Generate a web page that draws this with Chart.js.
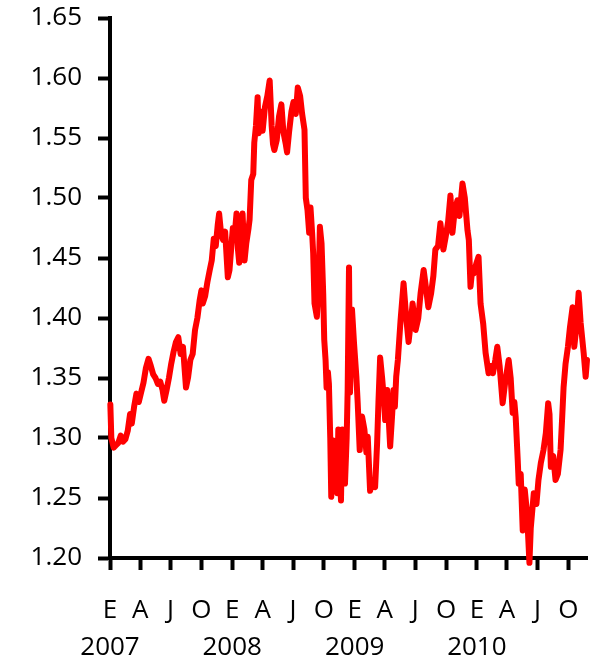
<!DOCTYPE html>
<html>
<head>
<meta charset="utf-8">
<script src="https://cdn.jsdelivr.net/npm/chart.js@4.4.0/dist/chart.umd.min.js"></script>
<style>
  html, body { margin: 0; padding: 0; background: #fff; }
  #wrap { width: 591px; height: 661px; position: relative; }
</style>
</head>
<body>
<div id="wrap"><canvas id="fxChart"></canvas></div>
<script>
// EUR/USD, valores
const dates = [
  '2007-01-02','2007-01-05','2007-01-12','2007-01-19','2007-01-26','2007-02-02','2007-02-09','2007-02-16','2007-02-23',
  '2007-03-02','2007-03-07','2007-03-14','2007-03-21','2007-03-28','2007-04-04','2007-04-11','2007-04-18','2007-04-26',
  '2007-05-03','2007-05-10','2007-05-17','2007-05-24','2007-05-31','2007-06-07','2007-06-12','2007-06-19','2007-06-26',
  '2007-07-03','2007-07-10','2007-07-17','2007-07-24','2007-07-31','2007-08-07','2007-08-16','2007-08-22','2007-08-29',
  '2007-09-05','2007-09-12','2007-09-19','2007-09-26','2007-10-01','2007-10-05','2007-10-12','2007-10-19','2007-10-26',
  '2007-11-01','2007-11-07','2007-11-13','2007-11-19','2007-11-23','2007-11-29','2007-12-05','2007-12-11','2007-12-19',
  '2007-12-24','2007-12-31',
  '2008-01-03','2008-01-08','2008-01-14','2008-01-18','2008-01-22','2008-01-28','2008-02-01','2008-02-07','2008-02-12',
  '2008-02-19','2008-02-22','2008-02-27','2008-03-04','2008-03-07','2008-03-12','2008-03-17','2008-03-20','2008-03-26',
  '2008-04-01','2008-04-08','2008-04-15','2008-04-22','2008-04-28','2008-05-02','2008-05-06','2008-05-13','2008-05-20',
  '2008-05-27','2008-06-02','2008-06-09','2008-06-13','2008-06-19','2008-06-26','2008-07-02','2008-07-09','2008-07-15',
  '2008-07-22','2008-07-28','2008-08-04','2008-08-08','2008-08-13','2008-08-18','2008-08-22','2008-08-27','2008-08-30',
  '2008-09-03','2008-09-10','2008-09-15','2008-09-19','2008-09-24','2008-09-29','2008-10-02','2008-10-06','2008-10-09',
  '2008-10-13','2008-10-16','2008-10-20','2008-10-23','2008-10-27','2008-10-30','2008-11-04','2008-11-07','2008-11-10',
  '2008-11-13','2008-11-18','2008-11-21','2008-11-25','2008-11-28','2008-12-03','2008-12-08','2008-12-11','2008-12-15',
  '2008-12-18','2008-12-24','2008-12-30',
  '2009-01-06','2009-01-10','2009-01-16','2009-01-23','2009-01-30','2009-02-05','2009-02-09','2009-02-16','2009-02-23',
  '2009-03-03','2009-03-09','2009-03-13','2009-03-18','2009-03-24','2009-03-30','2009-04-02','2009-04-08','2009-04-17',
  '2009-04-23','2009-04-27','2009-05-01','2009-05-05','2009-05-10','2009-05-18','2009-05-27','2009-06-04','2009-06-11',
  '2009-06-17','2009-06-23','2009-07-02','2009-07-10','2009-07-17','2009-07-26','2009-08-02','2009-08-09','2009-08-17',
  '2009-08-24','2009-08-30','2009-09-07','2009-09-14','2009-09-23','2009-09-30','2009-10-07','2009-10-14','2009-10-20',
  '2009-10-27','2009-11-04','2009-11-10','2009-11-19','2009-11-26','2009-12-04','2009-12-08','2009-12-13','2009-12-18',
  '2009-12-22','2009-12-30',
  '2010-01-06','2010-01-12','2010-01-20','2010-01-27','2010-02-05','2010-02-11','2010-02-18','2010-02-25','2010-03-03',
  '2010-03-10','2010-03-19','2010-03-26','2010-04-06','2010-04-12','2010-04-18','2010-04-23','2010-04-27','2010-05-03',
  '2010-05-06','2010-05-12','2010-05-18','2010-05-24','2010-05-31','2010-06-07','2010-06-11','2010-06-20','2010-06-28',
  '2010-07-04','2010-07-11','2010-07-19','2010-07-26','2010-08-02','2010-08-06','2010-08-10','2010-08-17','2010-08-24',
  '2010-08-31','2010-09-08','2010-09-13','2010-09-17','2010-09-23','2010-09-30','2010-10-06','2010-10-14','2010-10-19',
  '2010-10-25','2010-11-01','2010-11-07','2010-11-16','2010-11-22','2010-11-26'
];

const eurusd = [
  1.328,1.300,1.292,1.294,1.296,1.302,1.297,1.299,1.306,
  1.320,1.312,1.326,1.337,1.330,1.338,1.346,1.358,1.366,
  1.360,1.353,1.350,1.345,1.347,1.340,1.331,1.340,1.350,
  1.362,1.372,1.380,1.384,1.370,1.376,1.342,1.350,1.365,
  1.370,1.390,1.400,1.415,1.423,1.412,1.418,1.430,1.440,
  1.448,1.466,1.460,1.478,1.487,1.470,1.465,1.472,1.434,
  1.440,1.465,
  1.475,1.468,1.487,1.458,1.446,1.475,1.487,1.448,1.462,
  1.475,1.482,1.515,1.520,1.546,1.560,1.584,1.554,1.572,
  1.556,1.576,1.585,1.598,1.560,1.545,1.540,1.548,1.568,
  1.578,1.555,1.545,1.538,1.555,1.572,1.580,1.570,1.592,
  1.585,1.570,1.557,1.500,1.490,1.471,1.492,1.470,1.454,
  1.412,1.401,1.425,1.476,1.462,1.420,1.382,1.365,1.342,
  1.355,1.345,1.300,1.251,1.275,1.298,1.290,1.270,1.254,
  1.307,1.275,1.248,1.307,1.285,1.262,1.300,1.340,1.442,
  1.338,1.407,1.379,
  1.351,1.329,1.290,1.318,1.307,1.288,1.301,1.256,1.265,
  1.259,1.296,1.330,1.367,1.350,1.330,1.315,1.340,1.293,
  1.320,1.340,1.326,1.351,1.365,1.398,1.429,1.400,1.380,
  1.395,1.412,1.390,1.400,1.421,1.440,1.425,1.409,1.420,
  1.435,1.457,1.460,1.479,1.457,1.468,1.480,1.502,1.471,
  1.490,1.498,1.485,1.512,1.500,1.473,1.465,1.426,1.440,
  1.437,1.445,
  1.451,1.412,1.395,1.371,1.354,1.360,1.354,1.365,1.376,
  1.360,1.329,1.345,1.365,1.350,1.321,1.330,1.317,1.282,
  1.262,1.270,1.223,1.257,1.237,1.196,1.225,1.254,1.245,
  1.265,1.279,1.290,1.304,1.329,1.320,1.276,1.285,1.265,
  1.270,1.290,1.318,1.342,1.362,1.376,1.392,1.409,1.376,
  1.392,1.421,1.396,1.371,1.351,1.365
];

const quarterStarts = [
  '2007-01-01','2007-04-01','2007-07-01','2007-10-01',
  '2008-01-01','2008-04-01','2008-07-01','2008-10-01',
  '2009-01-01','2009-04-01','2009-07-01','2009-10-01',
  '2010-01-01','2010-04-01','2010-07-01','2010-10-01'
];
const quarterLabels = ['E','A','J','O','E','A','J','O','E','A','J','O','E','A','J','O'];
const yearLabels = ['2007','','','','2008','','','','2009','','','','2010','','',''];

const FONT = { family: '"Open Sans", "Noto Sans", sans-serif', size: 26 };

// days since 1 Jan 2007
function dayOf(s) {
  const p = s.split('-').map(Number);
  return (Date.UTC(p[0], p[1] - 1, p[2]) - Date.UTC(2007, 0, 1)) / 86400000;
}

const points = dates.map((d, i) => ({ x: dayOf(d), y: eurusd[i] }));

new Chart(document.getElementById('fxChart').getContext('2d'), {
  type: 'line',
  data: {
    datasets: [{
      data: points,
      borderColor: '#ff0000',
      borderWidth: 6,
      pointRadius: 0,
      tension: 0,
      borderJoinStyle: 'round',
      borderCapStyle: 'round',
      clip: false
    }]
  },
  options: {
    responsive: true,
    maintainAspectRatio: false,
    animation: false,
    layout: { padding: { top: 18, right: 4, left: 0, bottom: 0 } },
    plugins: {
      legend: { display: false },
      tooltip: { enabled: false }
    },
    scales: {
      x: {
        type: 'linear',
        min: 0,
        max: dayOf(dates[dates.length - 1]),
        afterBuildTicks: scale => {
          scale.ticks = quarterStarts.map(d => ({ value: dayOf(d) }));
        },
        afterFit: scale => {
          scale.height = 103;
          scale.paddingLeft = 0;
          scale.paddingRight = 0;
        },
        ticks: {
          autoSkip: false,
          maxRotation: 0,
          padding: 22,
          color: '#000',
          font: { ...FONT, lineHeight: 1.42 },
          callback: (v, i) => [quarterLabels[i], yearLabels[i]]
        },
        grid: { drawOnChartArea: false, drawTicks: true, tickLength: 12, tickWidth: 4, tickColor: '#000' },
        border: { color: '#000', width: 4 }
      },
      y: {
        min: 1.2,
        max: 1.65,
        afterFit: scale => {
          scale.width = 110;
          scale.paddingTop = 0;
          scale.paddingBottom = 0;
        },
        ticks: {
          stepSize: 0.05,
          padding: 16,
          color: '#000',
          font: FONT,
          callback: v => v.toFixed(2)
        },
        grid: { drawOnChartArea: false, drawTicks: true, tickLength: 12, tickWidth: 4, tickColor: '#000' },
        border: { color: '#000', width: 4 }
      }
    }
  }
});
</script>
</body>
</html>
